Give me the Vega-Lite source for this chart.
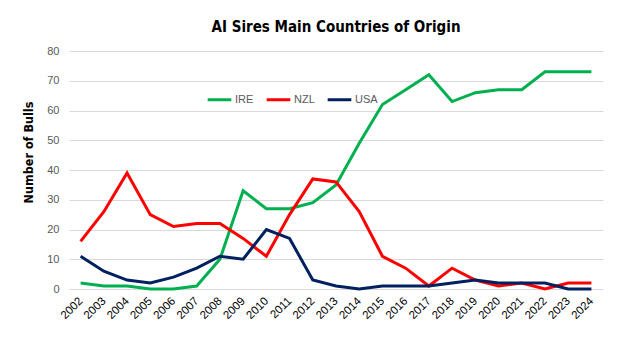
{
  "$schema": "https://vega.github.io/schema/vega-lite/v6.json",
  "width": 534,
  "height": 238,
  "autosize": {"type": "none"},
  "padding": {"left": 69, "top": 51, "right": 22, "bottom": 51},
  "background": "white",
  "title": {
    "text": "AI Sires Main Countries of Origin",
    "font": "DejaVu Sans Condensed",
    "fontSize": 15,
    "fontWeight": "bold",
    "color": "#000000",
    "anchor": "middle",
    "offset": 10
  },
  "data": {
    "values": [
      {"year": "2002", "country": "IRE", "bulls": 2},
      {"year": "2003", "country": "IRE", "bulls": 1},
      {"year": "2004", "country": "IRE", "bulls": 1},
      {"year": "2005", "country": "IRE", "bulls": 0},
      {"year": "2006", "country": "IRE", "bulls": 0},
      {"year": "2007", "country": "IRE", "bulls": 1},
      {"year": "2008", "country": "IRE", "bulls": 10},
      {"year": "2009", "country": "IRE", "bulls": 33},
      {"year": "2010", "country": "IRE", "bulls": 27},
      {"year": "2011", "country": "IRE", "bulls": 27},
      {"year": "2012", "country": "IRE", "bulls": 29},
      {"year": "2013", "country": "IRE", "bulls": 35},
      {"year": "2014", "country": "IRE", "bulls": 49},
      {"year": "2015", "country": "IRE", "bulls": 62},
      {"year": "2016", "country": "IRE", "bulls": 67},
      {"year": "2017", "country": "IRE", "bulls": 72},
      {"year": "2018", "country": "IRE", "bulls": 63},
      {"year": "2019", "country": "IRE", "bulls": 66},
      {"year": "2020", "country": "IRE", "bulls": 67},
      {"year": "2021", "country": "IRE", "bulls": 67},
      {"year": "2022", "country": "IRE", "bulls": 73},
      {"year": "2023", "country": "IRE", "bulls": 73},
      {"year": "2024", "country": "IRE", "bulls": 73},
      {"year": "2002", "country": "NZL", "bulls": 16},
      {"year": "2003", "country": "NZL", "bulls": 26},
      {"year": "2004", "country": "NZL", "bulls": 39},
      {"year": "2005", "country": "NZL", "bulls": 25},
      {"year": "2006", "country": "NZL", "bulls": 21},
      {"year": "2007", "country": "NZL", "bulls": 22},
      {"year": "2008", "country": "NZL", "bulls": 22},
      {"year": "2009", "country": "NZL", "bulls": 17},
      {"year": "2010", "country": "NZL", "bulls": 11},
      {"year": "2011", "country": "NZL", "bulls": 25},
      {"year": "2012", "country": "NZL", "bulls": 37},
      {"year": "2013", "country": "NZL", "bulls": 36},
      {"year": "2014", "country": "NZL", "bulls": 26},
      {"year": "2015", "country": "NZL", "bulls": 11},
      {"year": "2016", "country": "NZL", "bulls": 7},
      {"year": "2017", "country": "NZL", "bulls": 1},
      {"year": "2018", "country": "NZL", "bulls": 7},
      {"year": "2019", "country": "NZL", "bulls": 3},
      {"year": "2020", "country": "NZL", "bulls": 1},
      {"year": "2021", "country": "NZL", "bulls": 2},
      {"year": "2022", "country": "NZL", "bulls": 0},
      {"year": "2023", "country": "NZL", "bulls": 2},
      {"year": "2024", "country": "NZL", "bulls": 2},
      {"year": "2002", "country": "USA", "bulls": 11},
      {"year": "2003", "country": "USA", "bulls": 6},
      {"year": "2004", "country": "USA", "bulls": 3},
      {"year": "2005", "country": "USA", "bulls": 2},
      {"year": "2006", "country": "USA", "bulls": 4},
      {"year": "2007", "country": "USA", "bulls": 7},
      {"year": "2008", "country": "USA", "bulls": 11},
      {"year": "2009", "country": "USA", "bulls": 10},
      {"year": "2010", "country": "USA", "bulls": 20},
      {"year": "2011", "country": "USA", "bulls": 17},
      {"year": "2012", "country": "USA", "bulls": 3},
      {"year": "2013", "country": "USA", "bulls": 1},
      {"year": "2014", "country": "USA", "bulls": 0},
      {"year": "2015", "country": "USA", "bulls": 1},
      {"year": "2016", "country": "USA", "bulls": 1},
      {"year": "2017", "country": "USA", "bulls": 1},
      {"year": "2018", "country": "USA", "bulls": 2},
      {"year": "2019", "country": "USA", "bulls": 3},
      {"year": "2020", "country": "USA", "bulls": 2},
      {"year": "2021", "country": "USA", "bulls": 2},
      {"year": "2022", "country": "USA", "bulls": 2},
      {"year": "2023", "country": "USA", "bulls": 0},
      {"year": "2024", "country": "USA", "bulls": 0}
    ]
  },
  "mark": {"type": "line", "strokeWidth": 3, "strokeJoin": "miter"},
  "encoding": {
    "x": {
      "field": "year",
      "type": "ordinal",
      "scale": {"type": "point", "padding": 0.5},
      "axis": {
        "title": null,
        "labelAngle": -45,
        "labelAlign": "right",
        "labelBaseline": "middle",
        "labelFont": "Liberation Sans",
        "labelFontSize": 11.5,
        "labelColor": "#000000",
        "labelPadding": 10,
        "ticks": false,
        "domain": false,
        "grid": false
      }
    },
    "y": {
      "field": "bulls",
      "type": "quantitative",
      "scale": {"domain": [0, 80], "nice": false},
      "axis": {
        "title": "Number of Bulls",
        "titleFont": "DejaVu Sans Condensed",
        "titleFontSize": 12.5,
        "titleFontWeight": "bold",
        "titleColor": "#000000",
        "titleY": 101,
        "titleX": -41,
        "titleAngle": -90,
        "titleAlign": "center",
        "titleBaseline": "middle",
        "values": [0, 10, 20, 30, 40, 50, 60, 70, 80],
        "labelFont": "Liberation Sans",
        "labelFontSize": 11,
        "labelColor": "#595959",
        "labelPadding": 10,
        "ticks": false,
        "domain": false,
        "gridColor": "#d9d9d9",
        "gridWidth": 1
      }
    },
    "color": {
      "field": "country",
      "type": "nominal",
      "scale": {"domain": ["IRE", "NZL", "USA"], "range": ["#00B050", "#FF0000", "#002060"]},
      "legend": {
        "title": null,
        "orient": "none",
        "legendX": 137,
        "legendY": 35,
        "direction": "horizontal",
        "symbolType": "stroke",
        "symbolStrokeWidth": 3,
        "symbolSize": 560,
        "labelFont": "Liberation Sans",
        "labelFontSize": 11,
        "labelColor": "#595959",
        "labelOffset": 2,
        "columnPadding": 6
      }
    }
  },
  "config": {"view": {"stroke": null}}
}
